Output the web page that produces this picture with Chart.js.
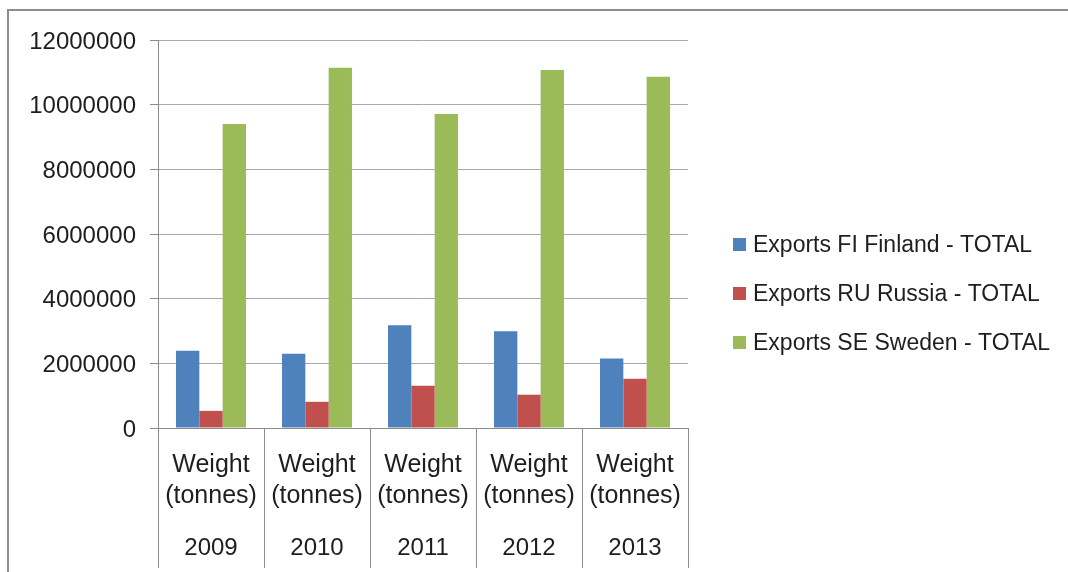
<!DOCTYPE html>
<html>
<head>
<meta charset="utf-8">
<script src="https://cdn.jsdelivr.net/npm/chart.js@4/dist/chart.umd.min.js"></script>
<style>
  html, body { margin: 0; padding: 0; background: #fff; overflow: hidden; }
  .wrap { position: relative; width: 1068px; height: 572px; }
  .frame { position: absolute; left: 7px; top: 9px; right: -10px; bottom: -10px; border: 2px solid #8c8c8c; }
  canvas { position: absolute; left: 0; top: 0; }
</style>
</head>
<body>
<div class="wrap">
  <div class="frame"></div>
  <canvas id="exportsChart" width="1068" height="572"></canvas>
</div>
<script>
const years = ['2009', '2010', '2011', '2012', '2013'];
const measure = ['Weight', '(tonnes)'];
const finland = [2390000, 2300000, 3180000, 2990000, 2150000];
const russia = [530000, 810000, 1310000, 1030000, 1520000];
const sweden = [9400000, 11140000, 9710000, 11070000, 10860000];
const yTicks = [0, 2000000, 4000000, 6000000, 8000000, 10000000, 12000000];

const FONT = "'Liberation Sans', Arial, sans-serif";
const TEXT = '#1e1e1e';
const AXIS = '#8c8c8c';

// legend drawn on the right, one row per dataset
const sideLegend = {
  id: 'sideLegend',
  afterDraw(chart) {
    const ctx = chart.ctx;
    ctx.save();
    ctx.font = '23px ' + FONT;
    ctx.textBaseline = 'middle';
    chart.data.datasets.forEach((ds, i) => {
      const y = 244.5 + i * 49;
      ctx.fillStyle = ds.backgroundColor;
      ctx.fillRect(733, y - 6.5, 13, 13);
      ctx.fillStyle = TEXT;
      ctx.fillText(ds.label, 753, y + 1);
    });
    ctx.restore();
  }
};

new Chart(document.getElementById('exportsChart'), {
  type: 'bar',
  data: {
    labels: years.map(() => measure),
    datasets: [
      { label: 'Exports FI Finland - TOTAL', data: finland, backgroundColor: '#4f81bd' },
      { label: 'Exports RU Russia - TOTAL', data: russia, backgroundColor: '#c0504d' },
      { label: 'Exports SE Sweden - TOTAL', data: sweden, backgroundColor: '#9bbb59' }
    ]
  },
  options: {
    responsive: false,
    animation: false,
    layout: { padding: { left: 8, right: 380, top: 40, bottom: 0 } },
    datasets: { bar: { categoryPercentage: 0.66, barPercentage: 1.0 } },
    plugins: { legend: { display: false }, tooltip: { enabled: false } },
    scales: {
      // inner level: measure name, with dividers running down through both levels
      x: {
        grid: { drawOnChartArea: false, offset: true, color: AXIS, tickLength: 140 },
        border: { color: AXIS },
        ticks: {
          color: TEXT, padding: -118, maxRotation: 0, autoSkip: false,
          font: { family: FONT, size: 25, lineHeight: 1.24 }
        },
        afterFit(scale) { scale.height = 90; }
      },
      // outer level: year
      years: {
        type: 'category',
        position: 'bottom',
        labels: years,
        offset: true,
        grid: { display: false },
        border: { display: false },
        ticks: {
          color: TEXT, padding: 8, maxRotation: 0, autoSkip: false,
          font: { family: FONT, size: 24, lineHeight: 1.17 }
        },
        afterFit(scale) { scale.height = 54; }
      },
      y: {
        min: 0,
        max: 12000000,
        afterBuildTicks(scale) { scale.ticks = yTicks.map(v => ({ value: v })); },
        grid: { color: '#a8a8a8', tickColor: AXIS, tickLength: 8 },
        border: { color: AXIS },
        ticks: {
          color: TEXT, padding: 14, labelOffset: 2,
          font: { family: FONT, size: 24 },
          callback: v => String(v)
        },
        afterFit(scale) { scale.width = 150; }
      }
    }
  },
  plugins: [sideLegend]
});
</script>
</body>
</html>
